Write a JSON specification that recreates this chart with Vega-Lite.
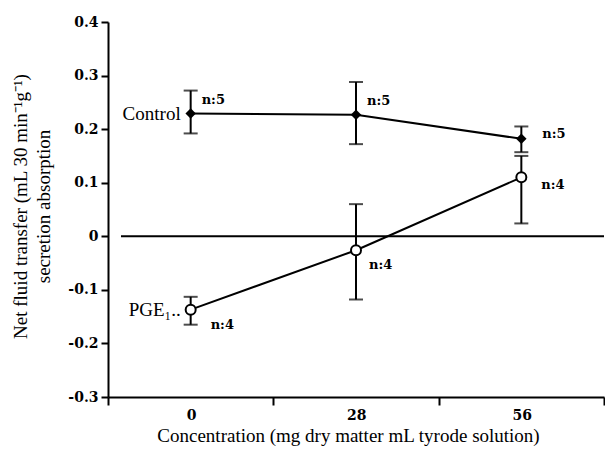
{
  "$schema": "https://vega.github.io/schema/vega-lite/v6.json",
  "width": 496,
  "height": 375,
  "autosize": "none",
  "padding": {"left": 108, "top": 22, "right": 1, "bottom": 61},
  "background": "white",
  "config": {
    "view": {"stroke": null},
    "font": "Liberation Serif",
    "axis": {
      "domainColor": "black", "domainWidth": 2, "tickColor": "black", "tickWidth": 2,
      "labelColor": "black", "titleColor": "black", "labelFont": "DejaVu Serif",
      "titleFont": "Liberation Serif", "labelFontSize": 14, "labelFontWeight": "bold",
      "titleFontSize": 19, "titleFontWeight": "normal", "grid": false
    }
  },
  "datasets": {
    "pts": [
      {"series": "Control", "conc": 0, "mean": 0.229, "lo": 0.192, "hi": 0.272, "n": "n:5"},
      {"series": "Control", "conc": 28, "mean": 0.227, "lo": 0.172, "hi": 0.288, "n": "n:5"},
      {"series": "Control", "conc": 56, "mean": 0.182, "lo": 0.157, "hi": 0.205, "n": "n:5"},
      {"series": "PGE", "conc": 0, "mean": -0.137, "lo": -0.165, "hi": -0.113, "n": "n:4"},
      {"series": "PGE", "conc": 28, "mean": -0.026, "lo": -0.118, "hi": 0.06, "n": "n:4"},
      {"series": "PGE", "conc": 56, "mean": 0.11, "lo": 0.024, "hi": 0.15, "n": "n:4"}
    ],
    "zero": [{"x1": -11.8, "x2": 70, "y": 0}],
    "names": [
      {"series": "Control", "conc": 0, "mean": 0.229, "label": "Control"},
      {"series": "PGE", "conc": 0, "mean": -0.137, "label": "PGE₁.."}
    ]
  },
  "layer": [
    {
      "data": {"name": "zero"},
      "mark": {"type": "rule", "color": "black", "strokeWidth": 2},
      "encoding": {
        "x": {"field": "x1", "type": "quantitative", "scale": {"domain": [-14, 70], "nice": false, "zero": false},
          "axis": {"values": [-14, 14, 42, 70], "labelExpr": "datum.value == -14 ? '0' : datum.value == 14 ? '28' : datum.value == 42 ? '56' : ''",
            "labelFont": "DejaVu Serif", "labelFontWeight": "bold", "labelFontSize": 14,
            "labelOffset": 83, "tickSize": 8, "labelPadding": 3, "title": "Concentration (mg dry matter mL tyrode solution)",
            "titleY": 38, "titleBaseline": "middle", "titleX": 240, "labelFlush": false, "labelOverlap": false}},
        "x2": {"field": "x2"},
        "y": {"field": "y", "type": "quantitative", "scale": {"domain": [-0.3, 0.4], "nice": false},
          "axis": {"values": [-0.3, -0.2, -0.1, 0, 0.1, 0.2, 0.3, 0.4], "labelExpr": "datum.value == 0 ? '0' : toString(datum.value)",
            "labelFont": "DejaVu Serif", "labelFontWeight": "bold", "labelFontSize": 14,
            "tickSize": 7, "labelPadding": 3, "title": ["Net fluid transfer (mL 30 min⁻¹g⁻¹)", "secretion absorption"],
            "titleX": -97, "titleY": 184, "titleBaseline": "top", "titleAngle": -90, "titleAlign": "center", "titleLineHeight": 23, "labelFlush": false}}
      }
    },
    {
      "data": {"name": "pts"},
      "mark": {"type": "rule", "color": "black", "strokeWidth": 2},
      "encoding": {
        "x": {"field": "conc", "type": "quantitative"},
        "y": {"field": "lo", "type": "quantitative"},
        "y2": {"field": "hi"}
      }
    },
    {
      "data": {"name": "pts"},
      "mark": {"type": "tick", "orient": "horizontal", "color": "black", "thickness": 2, "size": 14},
      "encoding": {
        "x": {"field": "conc", "type": "quantitative"},
        "y": {"field": "lo", "type": "quantitative"}
      }
    },
    {
      "data": {"name": "pts"},
      "mark": {"type": "tick", "orient": "horizontal", "color": "black", "thickness": 2, "size": 14},
      "encoding": {
        "x": {"field": "conc", "type": "quantitative"},
        "y": {"field": "hi", "type": "quantitative"}
      }
    },
    {
      "data": {"name": "pts"},
      "mark": {"type": "line", "color": "black", "strokeWidth": 2},
      "encoding": {
        "x": {"field": "conc", "type": "quantitative"},
        "y": {"field": "mean", "type": "quantitative"},
        "detail": {"field": "series"}
      }
    },
    {
      "data": {"name": "pts"},
      "transform": [{"filter": "datum.series == 'Control'"}],
      "mark": {"type": "point", "shape": "diamond", "filled": true, "color": "black", "opacity": 1, "size": 110},
      "encoding": {
        "x": {"field": "conc", "type": "quantitative"},
        "y": {"field": "mean", "type": "quantitative"}
      }
    },
    {
      "data": {"name": "pts"},
      "transform": [{"filter": "datum.series == 'PGE'"}],
      "mark": {"type": "point", "shape": "circle", "filled": true, "fill": "white", "stroke": "black", "strokeWidth": 2, "opacity": 1, "size": 100},
      "encoding": {
        "x": {"field": "conc", "type": "quantitative"},
        "y": {"field": "mean", "type": "quantitative"}
      }
    },
    {
      "data": {"name": "names"},
      "mark": {"type": "text", "align": "right", "baseline": "middle", "dx": -10, "fontSize": 19, "color": "black"},
      "encoding": {
        "x": {"field": "conc", "type": "quantitative"},
        "y": {"field": "mean", "type": "quantitative"},
        "text": {"field": "label"}
      }
    },
    {
      "data": {"name": "pts"},
      "transform": [{"filter": "datum.series == 'Control' && datum.conc < 50"}],
      "mark": {"type": "text", "align": "left", "baseline": "middle", "dx": 11, "dy": -14, "fontSize": 13, "fontWeight": "bold", "font": "DejaVu Serif", "color": "black"},
      "encoding": {
        "x": {"field": "conc", "type": "quantitative"},
        "y": {"field": "mean", "type": "quantitative"},
        "text": {"field": "n"}
      }
    },
    {
      "data": {"name": "pts"},
      "transform": [{"filter": "datum.series == 'Control' && datum.conc > 50"}],
      "mark": {"type": "text", "align": "left", "baseline": "middle", "dx": 21, "dy": -5, "fontSize": 13, "fontWeight": "bold", "font": "DejaVu Serif", "color": "black"},
      "encoding": {
        "x": {"field": "conc", "type": "quantitative"},
        "y": {"field": "mean", "type": "quantitative"},
        "text": {"field": "n"}
      }
    },
    {
      "data": {"name": "pts"},
      "transform": [{"filter": "datum.series == 'PGE' && datum.conc == 0"}],
      "mark": {"type": "text", "align": "left", "baseline": "middle", "dx": 20, "dy": 15, "fontSize": 13, "fontWeight": "bold", "font": "DejaVu Serif", "color": "black"},
      "encoding": {
        "x": {"field": "conc", "type": "quantitative"},
        "y": {"field": "mean", "type": "quantitative"},
        "text": {"field": "n"}
      }
    },
    {
      "data": {"name": "pts"},
      "transform": [{"filter": "datum.series == 'PGE' && datum.conc == 28"}],
      "mark": {"type": "text", "align": "left", "baseline": "middle", "dx": 13, "dy": 15, "fontSize": 13, "fontWeight": "bold", "font": "DejaVu Serif", "color": "black"},
      "encoding": {
        "x": {"field": "conc", "type": "quantitative"},
        "y": {"field": "mean", "type": "quantitative"},
        "text": {"field": "n"}
      }
    },
    {
      "data": {"name": "pts"},
      "transform": [{"filter": "datum.series == 'PGE' && datum.conc == 56"}],
      "mark": {"type": "text", "align": "left", "baseline": "middle", "dx": 20, "dy": 8, "fontSize": 13, "fontWeight": "bold", "font": "DejaVu Serif", "color": "black"},
      "encoding": {
        "x": {"field": "conc", "type": "quantitative"},
        "y": {"field": "mean", "type": "quantitative"},
        "text": {"field": "n"}
      }
    }
  ]
}
